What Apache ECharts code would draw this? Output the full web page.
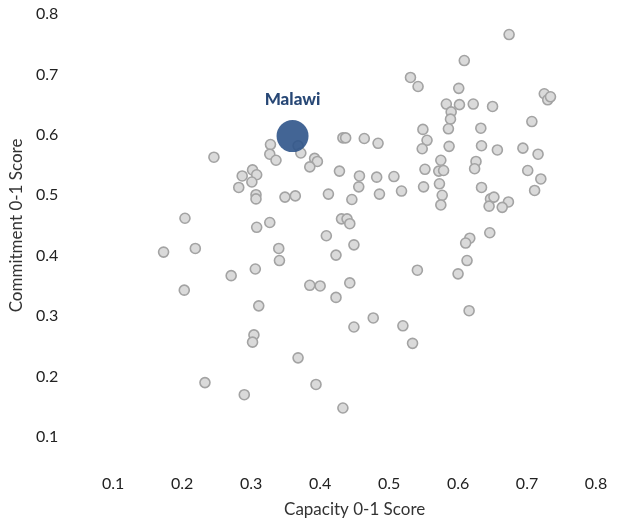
<!DOCTYPE html>
<html>
<head>
<meta charset="utf-8">
<script src="https://cdn.jsdelivr.net/npm/echarts@6/dist/echarts.min.js"></script>
<style>html,body{margin:0;padding:0;background:#fff}#c{width:619px;height:524px}</style>
</head>
<body>
<div id="c"></div>
<script>
var capacity = [0.246,0.328,0.368,0.327,0.336,0.372,0.392,0.396,0.433,0.437,
0.531,0.542,0.549,0.555,0.548,0.464,0.484,0.575,0.674,0.609,
0.601,0.583,0.602,0.622,0.650,0.590,0.589,0.586,0.633,0.587,
0.634,0.657,0.694,0.716,0.707,0.725,0.730,0.734,
0.385,0.428,0.302,0.287,0.308,0.301,0.282,0.307,0.307,0.349,
0.364,0.412,0.204,0.308,0.327,0.431,0.409,0.173,0.219,0.340,
0.341,0.423,0.306,0.271,0.203,0.385,0.400,0.457,0.482,0.507,
0.552,0.572,0.456,0.486,0.518,0.550,0.573,0.577,0.575,0.446,
0.439,0.443,0.449,0.443,0.541,0.579,0.626,0.624,0.701,0.720,
0.711,0.634,0.647,0.652,0.673,0.645,0.664,0.646,0.617,0.611,
0.613,0.600,
0.423,0.311,0.304,0.302,0.368,0.233,0.290,0.394,0.433,0.449,
0.477,0.520,0.534,0.616];
var commitment = [0.563,0.584,0.582,0.568,0.558,0.570,0.561,0.556,0.595,0.595,
0.695,0.680,0.609,0.591,0.577,0.594,0.586,0.558,0.766,0.723,
0.677,0.651,0.650,0.651,0.647,0.638,0.626,0.610,0.611,0.581,
0.582,0.575,0.578,0.568,0.622,0.668,0.658,0.663,
0.547,0.540,0.542,0.532,0.534,0.522,0.513,0.501,0.494,0.497,
0.499,0.502,0.462,0.447,0.455,0.461,0.433,0.406,0.412,0.412,
0.392,0.401,0.378,0.367,0.343,0.351,0.350,0.532,0.530,0.531,
0.543,0.540,0.514,0.502,0.507,0.514,0.519,0.500,0.484,0.493,
0.461,0.453,0.418,0.355,0.376,0.541,0.556,0.544,0.541,0.527,
0.508,0.513,0.494,0.497,0.489,0.482,0.480,0.438,0.429,0.421,
0.392,0.370,
0.331,0.317,0.269,0.257,0.231,0.190,0.170,0.187,0.148,0.282,
0.297,0.284,0.255,0.309];
var highlightName = ["Malawi"];
var highlightCapacity = [0.360];
var highlightCommitment = [0.598];
var tickValues = [0.1,0.2,0.3,0.4,0.5,0.6,0.7,0.8];

var pts = capacity.map(function(v,i){return [v, commitment[i]];});
var hl = highlightName.map(function(n,i){return {name:n, value:[highlightCapacity[i], highlightCommitment[i]]};});

var FONT = 'Lato, "Open Sans", sans-serif';
var chart = echarts.init(document.getElementById('c'), null, {renderer:'canvas'});
chart.setOption({
  animation:false,
  backgroundColor:'#fff',
  grid:{left:107, right:23, top:14, bottom:87},
  xAxis:{
    type:'value', min:0.1, max:0.8, interval:0.1,
    name:'Capacity 0-1 Score', nameLocation:'middle', nameGap:64,
    nameTextStyle:{fontFamily:FONT, fontSize:17, color:'#333'},
    axisLine:{show:false}, axisTick:{show:false}, splitLine:{show:false},
    axisLabel:{margin:39, fontFamily:FONT, fontSize:16, color:'#222',
      formatter:function(v){return v.toFixed(1);}}
  },
  yAxis:{
    type:'value', min:0.1, max:0.8, interval:0.1,
    name:'Commitment 0-1 Score', nameLocation:'middle', nameGap:77,
    nameTextStyle:{fontFamily:FONT, fontSize:17, color:'#333'},
    axisLine:{show:false}, axisTick:{show:false}, splitLine:{show:false},
    axisLabel:{margin:55, fontFamily:FONT, fontSize:16, color:'#222',
      formatter:function(v){return v.toFixed(1);}}
  },
  series:[
    {type:'scatter', data:pts, symbolSize:10, z:2,
     itemStyle:{color:'#dadada', borderColor:'#a3a3a3', borderWidth:1.6, opacity:1}},
    {type:'scatter', data:hl, symbolSize:32, z:3,
     itemStyle:{color:'#2f5489', opacity:0.9},
     label:{show:true, position:'top', distance:12, formatter:'{b}',
       fontFamily:FONT, fontSize:17, fontWeight:900, color:'#0f3366'}}
  ]
});
</script>
</body>
</html>
